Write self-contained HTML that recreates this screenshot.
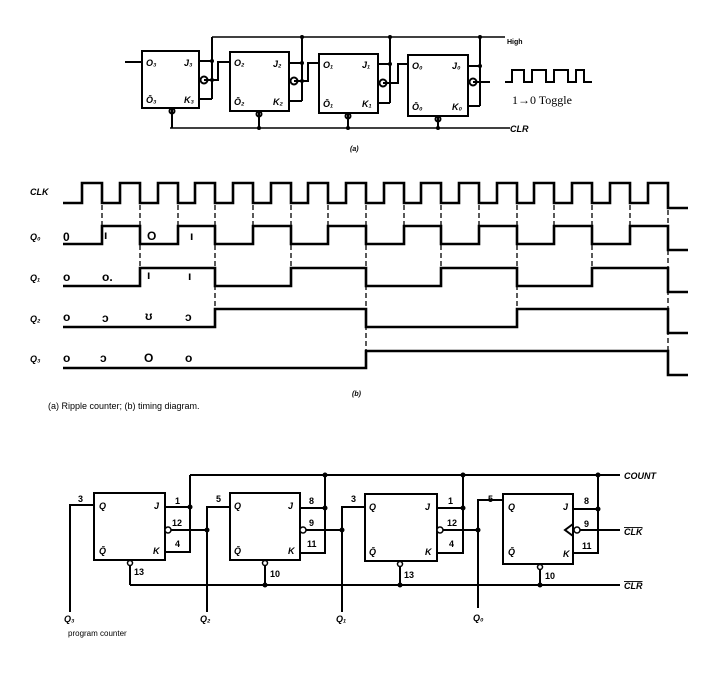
<!DOCTYPE html>
<html><head><meta charset="utf-8"><style>
html,body{margin:0;padding:0;background:#fff}
svg{display:block}
text{font-family:"Liberation Sans",sans-serif;fill:#000}
.b{font-weight:bold;font-style:italic;font-size:9px}
.s{font-family:"Liberation Serif",serif;font-size:12px}
.a{font-family:"Liberation Sans",sans-serif;font-size:12px;font-weight:bold}
</style></head><body>
<svg width="708" height="678" viewBox="0 0 708 678" xmlns="http://www.w3.org/2000/svg">
<g fill="none" stroke="#000" stroke-width="2">
<rect x="142" y="51" width="57" height="57"/>
<rect x="230" y="52" width="59" height="59"/>
<rect x="319" y="54" width="59" height="59"/>
<rect x="408" y="55" width="60" height="61"/>
<path d="M212 37H505" stroke-width="1.5"/>
<path d="M170 128H510" stroke-width="1.5"/>
<path d="M125 62H142"/>
<path d="M199 61H212M199 99H212M212 37V99M204 80H218V62H230"/>
<circle cx="204" cy="80" r="3.5"/>
<path d="M172 108V128"/><circle cx="172" cy="111" r="2.5"/>
<path d="M289 63H302M289 101H302M302 37V101M294 81H308V63H319"/>
<circle cx="294" cy="81" r="3.5"/>
<path d="M259 111V128"/><circle cx="259" cy="114" r="2.5"/>
<path d="M378 64H390M378 103H390M390 37V103M383 83H398V64H408"/>
<circle cx="383" cy="83" r="3.5"/>
<path d="M348 113V128"/><circle cx="348" cy="116" r="2.5"/>
<path d="M468 66H480M468 106H480M480 37V106M473 82H490"/>
<circle cx="473" cy="82" r="3.5"/>
<path d="M438 116V128"/><circle cx="438" cy="119" r="2.5"/>
<path d="M505 82H512V70H524V82H532V70H546V82H554V70H568V82H576V70H584V82H592" stroke-width="2"/>
</g>
<g fill="#000">
<circle cx="212" cy="61" r="2"/><circle cx="212" cy="80" r="2"/>
<circle cx="302" cy="63" r="2"/><circle cx="302" cy="81" r="2"/><circle cx="302" cy="37" r="2"/>
<circle cx="390" cy="64" r="2"/><circle cx="390" cy="37" r="2"/>
<circle cx="480" cy="66" r="2"/><circle cx="480" cy="37" r="2"/>
<circle cx="259" cy="128" r="2"/><circle cx="348" cy="128" r="2"/><circle cx="438" cy="128" r="2"/>
</g>
<g>
<text x="146" y="66" class="b">O₃</text><text x="146" y="103" class="b">Ō₃</text>
<text x="184" y="66" class="b">J₃</text><text x="184" y="103" class="b">K₃</text>
<text x="234" y="66" class="b">O₂</text><text x="234" y="105" class="b">Ō₂</text>
<text x="273" y="67" class="b">J₂</text><text x="273" y="105" class="b">K₂</text>
<text x="323" y="68" class="b">O₁</text><text x="323" y="107" class="b">Ō₁</text>
<text x="362" y="68" class="b">J₁</text><text x="362" y="107" class="b">K₁</text>
<text x="412" y="69" class="b">O₀</text><text x="412" y="110" class="b">Ō₀</text>
<text x="452" y="69" class="b">J₀</text><text x="452" y="110" class="b">K₀</text>
<text x="507" y="44" class="b" style="font-size:7px;font-style:normal">High</text>
<text x="510" y="132" class="b">CLR</text>
<text x="350" y="151" class="b" style="font-size:7px">(a)</text>
</g>
<text x="512" y="104" class="s">1→0  Toggle</text>

<g fill="none" stroke="#000" stroke-width="2.6">
<path d="M63 203H82V183H102V203H120V183H140V203H158V183H178V203H195V183H215V203H233V183H253V203H271V183H291V203H308V183H328V203H346V183H366V203H384V183H404V203H421V183H441V203H459V183H479V203H497V183H517V203H534V183H554V203H572V183H592V203H610V183H630V203H648V183H668V208H688"/>
<path d="M63 244H102V226H140V244H178V226H215V244H253V226H291V244H328V226H366V244H404V226H441V244H479V226H517V244H554V226H592V244H630V226H668V250H688"/>
<path d="M63 286H140V268H215V286H291V268H366V286H441V268H517V286H592V268H668V292H688"/>
<path d="M63 327H215V309H366V327H517V309H668V333H688"/>
<path d="M63 368H366V351H668V375H688"/>
</g>
<g stroke="#000" stroke-width="1.3" stroke-dasharray="5,3">
<path d="M102 205V226M140 205V268M178 205V226M215 205V309M253 205V226M291 205V268M328 205V226M366 205V351M404 205V226M441 205V268M479 205V226M517 205V309M554 205V226M592 205V268M630 205V226M668 210V351"/>
</g>
<g>
<text x="30" y="195" class="b">CLK</text>
<text x="30" y="240" class="b">Q₀</text>
<text x="30" y="281" class="b">Q₁</text>
<text x="30" y="322" class="b">Q₂</text>
<text x="30" y="362" class="b">Q₃</text>
</g>
<g>
<text x="63" y="241" class="a">0</text><text x="104" y="239" class="a">ı</text><text x="147" y="240" class="a">O</text><text x="190" y="240" class="a">ı</text>
<text x="63" y="281" class="a">o</text><text x="102" y="281" class="a">o.</text><text x="147" y="279" class="a">ı</text><text x="188" y="280" class="a">ı</text>
<text x="63" y="321" class="a">o</text><text x="102" y="322" class="a">ɔ</text><text x="145" y="320" class="a">ʊ</text><text x="185" y="321" class="a">ɔ</text>
<text x="63" y="362" class="a">o</text><text x="100" y="362" class="a">ɔ</text><text x="144" y="362" class="a">O</text><text x="185" y="362" class="a">o</text>
</g>
<text x="352" y="396" style="font-size:7px;font-weight:bold;font-style:italic">(b)</text>
<text x="48" y="409" style="font-size:9px">(a) Ripple counter; (b) timing diagram.</text>

<g fill="none" stroke="#000" stroke-width="2">
<rect x="94" y="493" width="71" height="67"/>
<rect x="230" y="493" width="70" height="67"/>
<rect x="365" y="494" width="72" height="67"/>
<rect x="503" y="494" width="70" height="70"/>
<path d="M190 475H620" />
<path d="M130 585H620" />
<path d="M94 505H70V612M165 507H190M165 552H190V475M168 530H207V507H230M207 530V612M130 563V585"/>
<path d="M300 508H325M300 553H325V475M303 530H342V507H365M342 530V612M265 563V585"/>
<path d="M437 508H463M437 553H463V475M440 530H478V500H503M478 530V608M400 564V585"/>
<path d="M573 509H598M573 553H598V475M580 530H620M540 567V585"/>
<path d="M573 524L565 530L573 536"/>
</g>
<g fill="#fff" stroke="#000" stroke-width="1.5">
<circle cx="168" cy="530" r="3"/><circle cx="303" cy="530" r="3"/><circle cx="440" cy="530" r="3"/><circle cx="577" cy="530" r="3"/>
<circle cx="130" cy="563" r="2.5"/><circle cx="265" cy="563" r="2.5"/><circle cx="400" cy="564" r="2.5"/><circle cx="540" cy="567" r="2.5"/>
</g>
<g fill="#000">
<circle cx="190" cy="507" r="2.5"/><circle cx="207" cy="530" r="2.5"/>
<circle cx="325" cy="475" r="2.5"/><circle cx="325" cy="508" r="2.5"/><circle cx="342" cy="530" r="2.5"/><circle cx="265" cy="585" r="2.5"/>
<circle cx="463" cy="475" r="2.5"/><circle cx="463" cy="508" r="2.5"/><circle cx="478" cy="530" r="2.5"/><circle cx="400" cy="585" r="2.5"/>
<circle cx="598" cy="475" r="2.5"/><circle cx="598" cy="509" r="2.5"/><circle cx="540" cy="585" r="2.5"/>
</g>
<g style="font-size:9px;font-weight:bold">
<text x="78" y="502">3</text><text x="99" y="509" font-style="italic">Q</text><text x="99" y="554" font-style="italic">Q̄</text>
<text x="154" y="509" font-style="italic">J</text><text x="153" y="554" font-style="italic">K</text>
<text x="175" y="504">1</text><text x="172" y="526">12</text><text x="175" y="547">4</text><text x="134" y="575">13</text>
<text x="216" y="502">5</text><text x="234" y="509" font-style="italic">Q</text><text x="234" y="554" font-style="italic">Q̄</text>
<text x="288" y="509" font-style="italic">J</text><text x="288" y="554" font-style="italic">K</text>
<text x="309" y="504">8</text><text x="309" y="526">9</text><text x="307" y="547">11</text><text x="270" y="577">10</text>
<text x="351" y="502">3</text><text x="369" y="510" font-style="italic">Q</text><text x="369" y="555" font-style="italic">Q̄</text>
<text x="425" y="510" font-style="italic">J</text><text x="425" y="555" font-style="italic">K</text>
<text x="448" y="504">1</text><text x="447" y="526">12</text><text x="449" y="547">4</text><text x="404" y="578">13</text>
<text x="488" y="502">5</text><text x="508" y="510" font-style="italic">Q</text><text x="508" y="555" font-style="italic">Q̄</text>
<text x="563" y="510" font-style="italic">J</text><text x="563" y="557" font-style="italic">K</text>
<text x="584" y="504">8</text><text x="584" y="527">9</text><text x="582" y="549">11</text><text x="545" y="579">10</text>
<text x="624" y="479" font-style="italic">COUNT</text>
<text x="624" y="535" font-style="italic" text-decoration="overline">CLK</text>
<text x="624" y="589" font-style="italic" text-decoration="overline">CLR</text>
<text x="64" y="622" font-style="italic">Q₃</text><text x="200" y="622" font-style="italic">Q₂</text>
<text x="336" y="622" font-style="italic">Q₁</text><text x="473" y="621" font-style="italic">Q₀</text>
</g>
<text x="68" y="636" style="font-size:8px">program counter</text>
</svg>
</body></html>
